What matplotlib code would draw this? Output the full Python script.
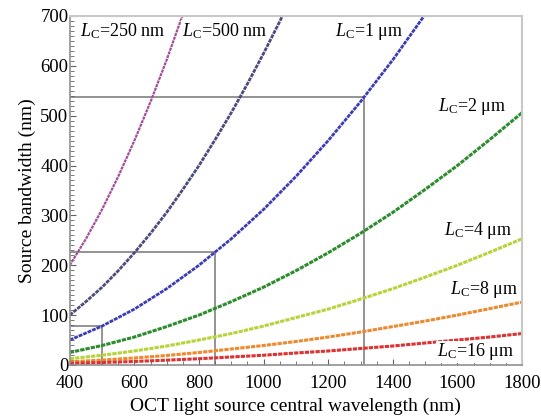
import numpy as np
import matplotlib.pyplot as plt
from matplotlib.ticker import MultipleLocator

plt.rcParams['font.family'] = ['Liberation Serif', 'DejaVu Serif']
plt.rcParams['mathtext.fontset'] = 'custom'
plt.rcParams['mathtext.rm'] = 'Liberation Serif'
plt.rcParams['mathtext.it'] = 'Liberation Serif:italic'

# wavelength (nm) and bandwidth (nm)
wl_fine = [400, 450, 500, 550, 600, 650, 700, 750, 800, 850, 900, 950, 1000, 1050, 1100]
wl = [400, 500, 600, 700, 800, 900, 1000, 1100, 1200, 1300, 1400, 1500, 1600, 1700, 1800]
bw_250 = [200, 253, 312, 378, 450, 528, 612, 703, 800]
bw_500 = [100, 127, 156, 189, 225, 264, 306, 352, 400, 452, 506, 564, 625, 689, 756]
bw_1um = [50, 78, 112, 153, 200, 253, 312, 378, 450, 528, 612, 703, 800]
bw_2um = [25, 39, 56, 77, 100, 127, 156, 189, 225, 264, 306, 352, 400, 452, 506]
bw_4um = [12.5, 19.5, 28, 38, 50, 63, 78, 95, 112, 132, 153, 176, 200, 226, 253]
bw_8um = [6.2, 9.8, 14, 19, 25, 32, 39, 47, 56, 66, 77, 88, 100, 113, 126]
bw_16um = [3.1, 4.9, 7, 9.6, 12.5, 16, 19.5, 24, 28, 33, 38, 44, 50, 56, 63]

curves = [(wl_fine, bw_250), (wl_fine, bw_500), (wl, bw_1um), (wl, bw_2um),
          (wl, bw_4um), (wl, bw_8um), (wl, bw_16um)]
colors = ['#a0509a', '#4c4c7c', '#3c3cb4', '#2e8c2e', '#b4d43a', '#ec8a30', '#d83434']
widths = [1.6, 2.0, 2.0, 2.2, 2.2, 2.2, 2.2]

labels = ['250 nm', '500 nm', '1 \u03bcm', '2 \u03bcm', '4 \u03bcm', '8 \u03bcm', '16 \u03bcm']
label_pos = [(431, 670), (747, 670), (1220, 668), (1540, 518), (1558, 270), (1577, 152), (1537, 26)]

# guide lines where the 1 um curve is read
guide_wl = [500, 850, 1310]
guide_bw = [78, 226, 537]

fig = plt.figure(figsize=(5.41, 4.19), dpi=100)
ax = fig.add_axes([0.129, 0.129, 0.836, 0.833])

for g_x, g_y in zip(guide_wl, guide_bw):
    ax.plot([400, g_x], [g_y, g_y], color='#808080', lw=1.2, zorder=1)
    ax.plot([g_x, g_x], [0, g_y], color='#808080', lw=1.2, zorder=1)

for (x, bw), c, w in zip(curves, colors, widths):
    ax.plot(x[:len(bw)], bw, color=c, lw=w, linestyle=(0, (1.4, 0.35)), zorder=2)

for (lx, ly), lab in zip(label_pos, labels):
    t = ax.text(lx, ly, r'$\mathit{L}_\mathrm{C}$=' + lab, fontsize=13, va='center', ha='left', zorder=3)
    t.set_bbox(dict(facecolor='white', edgecolor='none', pad=0.5))

ax.set_xlim(400, 1800)
ax.set_ylim(0, 700)
ax.xaxis.set_major_locator(MultipleLocator(200))
ax.xaxis.set_minor_locator(MultipleLocator(50))
ax.yaxis.set_major_locator(MultipleLocator(100))
ax.yaxis.set_minor_locator(MultipleLocator(10))
ax.tick_params(which='both', direction='in', labelsize=13.5, color='#606060')
ax.tick_params(which='major', length=4)
ax.tick_params(which='minor', length=3)
ax.tick_params(axis='x', pad=7)
ax.tick_params(axis='y', pad=1)

for s in ['top', 'right']:
    ax.spines[s].set_color('#c8c8c8')
    ax.spines[s].set_linewidth(1.5)
for s in ['left', 'bottom']:
    ax.spines[s].set_color('#909090')
    ax.spines[s].set_linewidth(1.2)

ax.set_xlabel('OCT light source central wavelength (nm)', fontsize=14, labelpad=4)
ax.set_ylabel('Source bandwidth (nm)', fontsize=14, labelpad=3)

fig.savefig('out.png', dpi=100)
